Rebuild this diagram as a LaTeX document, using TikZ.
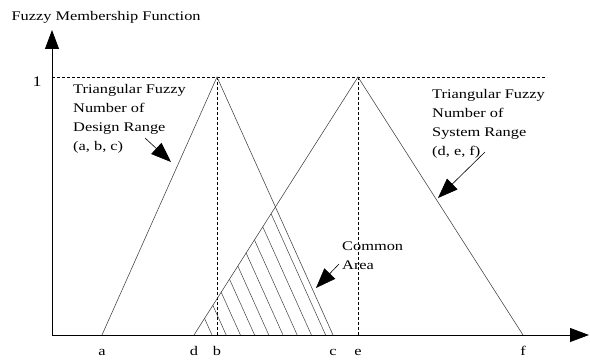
\documentclass[tikz,border=0pt]{standalone}
\usepackage{fontspec}
\setmainfont[FakeStretch=1.24]{Liberation Serif}
\usetikzlibrary{positioning,arrows.meta}

\begin{document}
\begin{tikzpicture}[
    x=1pt, y=-1pt,
    every node/.style={font=\fontsize{13.2}{19}\selectfont},
    axis/.style={-{Triangle[length=19pt,width=14pt]}, line width=0.8pt},
    tri/.style={line width=0.55pt, draw=black!75},
    guide/.style={line width=0.5pt, dash pattern=on 3pt off 2pt},
    hatch/.style={line width=0.5pt, draw=black!75},
    ptr/.style={-{Triangle[length=20pt,width=15pt]}, line width=0.6pt},
    note/.style={align=left, inner sep=0pt, anchor=north west},
    tick/.style={inner sep=0pt, text height=9pt, text depth=0pt}
]
    \useasboundingbox (0,0) rectangle (590,361);
    \coordinate (o) at (52,335);
    \coordinate (ytop) at (52,30);
    \coordinate (xend) at (589,335);
    \coordinate (a) at (102,335);
    \coordinate (b) at (217,335);
    \coordinate (c) at (333,335);
    \coordinate (d) at (194,335);
    \coordinate (e) at (358,335);
    \coordinate (f) at (523,335);
    \coordinate (bpeak) at (217,77);
    \coordinate (epeak) at (358,77);
    \coordinate (onelevel) at (52,77);
    \coordinate (onend) at (547,77);

    % axes
    \draw[axis] (o) -- (ytop);
    \draw[axis] (o) -- (xend);
    \node[anchor=base west] (title) at (8,21) {Fuzzy Membership Function};
    \node[font=\fontsize{14.5}{19}\selectfont] (onelab) at (37,82) {1};

    \draw[guide] (onelevel) -- (onend);
    \draw[guide] (bpeak) -- (b);
    \draw[guide] (epeak) -- (e);

    \draw[tri] (a) -- (bpeak) -- (c);
    \draw[tri] (d) -- (epeak) -- (f);

    % common area
    \coordinate (cross) at (intersection of bpeak--c and d--epeak);
    \begin{scope}
        \clip (d) -- (cross) -- (c) -- cycle;
        \foreach \k in {0,...,8}
            \draw[hatch] (212+14.2*\k,335) -- ++(-116,-258);
    \end{scope}

    \foreach \p in {a,b,c,d,e,f}
        \node[tick, below=11pt of \p] (\p lab) {\p};

    \node[note] (design) at (73,84) {Triangular Fuzzy\\Number of\\Design Range\\(a, b, c)};
    \node[note] (system) at (432,89) {Triangular Fuzzy\\Number of\\System Range\\(d, e, f)};
    \node[note] (common) at (342,242) {Common\\Area};

    \coordinate (dtail) at (145,138);
    \coordinate (dtip) at (171,162);
    \coordinate (stail) at (485,152);
    \coordinate (stip) at (438,198);
    \coordinate (ctail) at (339,264);
    \coordinate (ctip) at (316,288);
    \draw[ptr] (dtail) -- (dtip);
    \draw[ptr] (stail) -- (stip);
    \draw[ptr] (ctail) -- (ctip);
\end{tikzpicture}
\end{document}
